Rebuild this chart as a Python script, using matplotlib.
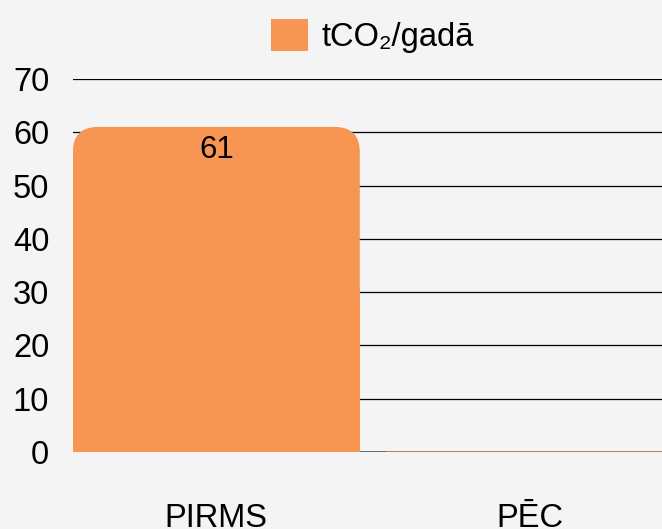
import matplotlib.pyplot as plt
from matplotlib.patches import FancyBboxPatch, Rectangle

plt.rcParams['font.family'] = ['Liberation Sans', 'DejaVu Sans']

categories = ['PIRMS', 'PĒC']
values = [61, 0]
value_labels = ['61', '']
series_name = 'tCO₂/gadā'
yticks = [0, 10, 20, 30, 40, 50, 60, 70]

bg = '#f4f4f4'
orange = '#f79552'
fs = 23.5

fig = plt.figure(figsize=(6.62, 5.29), dpi=100, facecolor=bg)
ax = fig.add_axes([0.110, 0.1456, 0.89, 0.7051], facecolor=bg)

width = 0.914
bars = ax.bar(range(len(categories)), values, width=width, color='none',
              edgecolor='none', zorder=3)

# rounded top corners: x unit ~314 px, y unit ~5.33 px
rx = 0.08
aspect = (0.08 * 314 / 5.33) / rx
for b, v in zip(bars, values):
    x, w, h = b.get_x(), b.get_width(), b.get_height()
    if h > 0:
        ax.add_patch(FancyBboxPatch((x + rx, rx * aspect), w - 2 * rx, h - 2 * rx * aspect,
                                    boxstyle=f'round,pad={rx},rounding_size={rx}',
                                    mutation_aspect=aspect,
                                    facecolor=orange, edgecolor='none', zorder=3))
        ax.add_patch(Rectangle((x, 0), w, h / 2, facecolor=orange, edgecolor='none', zorder=3))
    else:
        ax.plot([x, x + w], [0, 0], color='#c8825c', lw=1.2, zorder=4)

for i, (v, lab) in enumerate(zip(values, value_labels)):
    if lab:
        ax.annotate(lab, (i, v), xytext=(0, -6), textcoords='offset points',
                    ha='center', va='top', fontsize=fs - 1, color='black', zorder=5)

ax.set_xlim(-width / 2, -width / 2 + 0.89 * 662 / 314)
ax.set_ylim(0, 70)
ax.set_yticks(yticks)
ax.set_xticks(range(len(categories)))
ax.set_xticklabels(categories)
ax.yaxis.grid(True, color='black', lw=0.9, zorder=0)
ax.set_axisbelow(True)
ax.axhline(0, color='#555555', lw=1.2, zorder=2)
for s in ax.spines.values():
    s.set_visible(False)
ax.tick_params(axis='y', length=0, pad=17, labelsize=fs)
ax.tick_params(axis='x', length=0, pad=37, labelsize=fs)

handle = Rectangle((0, 0), 1, 1, facecolor=orange, edgecolor='none')
fig.legend([handle], [series_name], loc='center', bbox_to_anchor=(372 / 662, 1 - 36 / 529),
           frameon=False, fontsize=fs, handlelength=1.15, handleheight=1.15,
           handletextpad=0.4)

fig.savefig('out.png', dpi=100, facecolor=bg)
